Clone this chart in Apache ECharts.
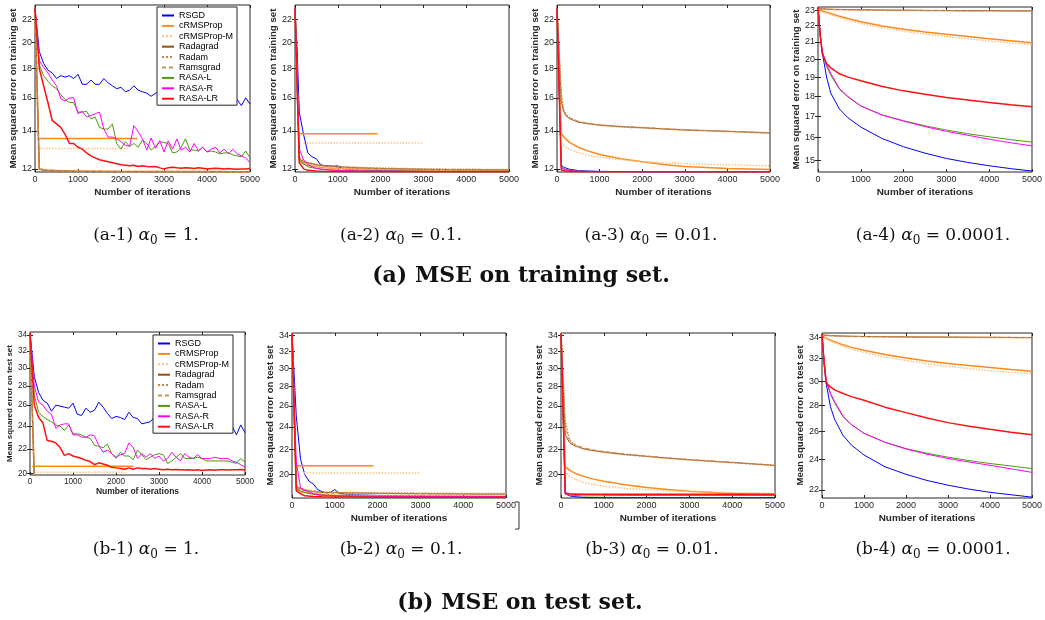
<!DOCTYPE html>
<html><head><meta charset="utf-8">
<script src="https://cdn.jsdelivr.net/npm/echarts@6/dist/echarts.min.js"></script>
<style>html,body{margin:0;padding:0;background:#fff}#c{width:1045px;height:620px}</style>
</head><body><div id="c"></div><script>
const NAMES = ['RSGD','cRMSProp','cRMSProp-M','Radagrad','Radam','Ramsgrad','RASA-L','RASA-R','RASA-LR'];
const X_TICKS = [0,1000,2000,3000,4000,5000];
const TICKS_TRAIN = [12,14,16,18,20,22];
const TICKS_TRAIN4 = [15,16,17,18,19,20,21,22,23];
const TICKS_TEST = [20,22,24,26,28,30,32,34];
const TICKS_TEST4 = [22,24,26,28,30,32,34];
const YNAME_TRAIN = 'Mean squared error on training set';
const YNAME_TEST = 'Mean squared error on test set';
const XNAME = 'Number of iterations';

const X100 = [0,100,200,300,400,500,600,700,800,900,1000,1100,1200,1300,1400,1500,1600,1700,1800,1900,2000,2100,2200,2300,2400,2500,2600,2700,2800,2900,3000,3100,3200,3300,3400,3500,3600,3700,3800,3900,4000,4100,4200,4300,4400,4500,4600,4700,4800,4900,5000];

// (a-1)
const a1_RSGD = [23.0,19.3,18.4,17.9,17.7,17.3,17.5,17.4,17.5,17.3,17.6,16.9,16.9,17.2,16.9,16.9,17.3,17.0,16.8,16.6,16.7,16.4,16.5,16.8,16.5,16.4,16.3,16.1,16.3,16.4,16.4,16.2,16.3,16.0,16.2,16.1,16.3,16.0,16.1,15.9,16.0,16.2,15.9,16.0,15.8,16.1,15.8,15.9,15.5,16.0,15.6];
const a1_RASA_L = [23.0,18.3,17.5,17.1,16.8,16.6,16.2,15.9,15.7,15.7,15.1,15.1,15.15,14.7,14.8,14.2,14.1,14.1,14.4,13.3,13.0,13.4,13.15,13.3,13.1,13.5,13.3,12.95,13.15,13.4,13.35,13.3,12.8,12.85,13.1,13.55,12.95,12.95,12.9,13.1,12.85,12.9,12.85,12.75,12.8,12.8,12.7,12.65,12.6,12.9,12.55];
const a1_RASA_R = [23.0,18.6,18.1,17.7,17.2,16.8,15.95,15.8,16.0,16.0,15.0,15.15,14.8,14.9,15.0,15.1,14.1,13.65,13.65,13.55,13.4,13.2,13.15,14.3,13.95,13.55,12.95,13.6,13.05,13.45,12.85,13.45,13.0,13.55,12.95,13.1,12.85,13.3,12.9,13.1,12.85,13.0,13.1,12.8,13.0,12.75,13.0,12.75,12.65,12.55,12.3];
const a1_RASA_LR = [23.0,18.0,16.8,15.7,14.6,14.4,14.2,13.8,13.3,13.3,13.1,13.0,12.8,12.65,12.55,12.45,12.4,12.35,12.3,12.25,12.2,12.18,12.15,12.18,12.12,12.15,12.12,12.1,12.12,12.05,12.0,12.06,12.08,12.05,12.03,12.06,12.04,12.02,12.05,12.03,12.0,12.02,12.03,12.02,12.0,12.02,12.0,11.98,12.0,12.0,12.02];
const A1_X = [0,100,200,500,1000,2000,3000,4000,5000];
const a1_cRMSProp = [23.0,12.0,11.95,11.92,11.9,11.88,11.87,11.87,11.86];
const a1_cRMSPropM = [23.0,12.05,11.97,11.93,11.9,11.88,11.87,11.87,11.86];
const a1_Radagrad = [23.0,11.98,11.93,11.9,11.88,11.87,11.86,11.86,11.86];
const a1_Radam = [23.0,12.02,11.95,11.91,11.89,11.87,11.87,11.86,11.86];
const a1_Ramsgrad = [23.0,12.0,11.94,11.9,11.88,11.87,11.86,11.86,11.86];
const a1_flat1X = [50,2380], a1_flat1Y = [13.57,13.57];
const a1_flat2X = [50,2170], a1_flat2Y = [13.03,13.03];

// (a-2)
const A2_XB = [0,50,100,200,300,400,500,600,700,800,900,1000,1100,1200,1500,2000,3000,4000,5000];
const a2_RSGD = [23.0,19.5,15.1,13.8,12.8,12.6,12.5,12.2,12.15,12.15,12.13,12.15,12.02,12.0,11.97,11.93,11.9,11.88,11.87];
const A2_X = [0,100,200,300,500,700,1000,1500,2000,3000,4000,5000];
const a2_cRMSProp = [23,12.4,12.25,12.18,12.1,12.06,12.02,11.98,11.96,11.93,11.92,11.91];
const a2_cRMSPropM = [23,12.45,12.3,12.22,12.13,12.08,12.04,12.0,11.98,11.95,11.94,11.93];
const a2_Radagrad = [23,12.5,12.35,12.3,12.2,12.15,12.1,12.05,12.02,11.98,11.96,11.95];
const a2_Radam = [23,12.55,12.4,12.33,12.22,12.17,12.12,12.07,12.04,12.0,11.98,11.97];
const a2_Ramsgrad = [23,12.45,12.32,12.27,12.18,12.13,12.08,12.04,12.01,11.98,11.96,11.95];
const a2_RASA_L = [23,12.45,12.25,12.1,12.02,11.97,11.93,11.9,11.89,11.88,11.87,11.87];
const a2_RASA_R = [23,13.0,12.45,12.2,12.02,11.96,11.92,11.9,11.89,11.88,11.87,11.87];
const a2_RASA_LR = [23,12.3,12.0,11.93,11.9,11.88,11.87,11.87,11.86,11.86,11.86,11.86];
const a2_flat1X = [120,1930], a2_flat1Y = [13.83,13.83];
const a2_flat2X = [200,2990], a2_flat2Y = [13.32,13.32];

// (a-3)
const A3_X = [0,100,150,200,300,500,700,1000,1500,2000,2500,3000,4000,5000];
const a3_RSGD = [23,12.2,12.1,12.05,11.98,11.92,11.9,11.88,11.87,11.86,11.86,11.86,11.86,11.86];
const a3_cRMSProp = [23,13.85,13.7,13.55,13.35,13.1,12.92,12.72,12.5,12.35,12.22,12.12,12.02,11.97];
const a3_cRMSPropM = [23,13.3,13.2,13.1,12.98,12.82,12.7,12.58,12.45,12.36,12.3,12.25,12.2,12.15];
const a3_Radagrad = [23,15.8,15.2,14.9,14.7,14.5,14.42,14.33,14.24,14.18,14.11,14.05,13.97,13.88];
const a3_Radam = [23,16.3,15.3,15.0,14.75,14.52,14.43,14.32,14.22,14.16,14.1,14.04,13.96,13.87];
const a3_Ramsgrad = [23,16.0,15.25,14.95,14.75,14.55,14.45,14.35,14.26,14.2,14.13,14.07,13.98,13.9];
const a3_RASA_L = [23,12.1,12.03,11.98,11.93,11.9,11.88,11.87,11.86,11.86,11.86,11.86,11.86,11.86];
const a3_RASA_R = [23,12.05,12.0,11.96,11.92,11.89,11.87,11.86,11.86,11.86,11.86,11.86,11.86,11.86];
const a3_RASA_LR = [23,11.95,11.92,11.9,11.88,11.87,11.86,11.86,11.86,11.86,11.86,11.86,11.86,11.86];

// (a-4)
const A4_X = [0,50,100,200,300,500,700,1000,1500,2000,2500,3000,3500,4000,4500,5000];
const a4_RSGD = [23.2,21.5,20.4,19.0,18.15,17.35,16.92,16.48,15.95,15.58,15.3,15.07,14.9,14.76,14.64,14.54];
const a4_cRMSProp = [23.1,23.0,22.95,22.85,22.78,22.6,22.45,22.25,21.98,21.77,21.6,21.46,21.33,21.2,21.08,20.96];
const a4_cRMSPropM = [23.05,22.95,22.88,22.78,22.7,22.5,22.35,22.13,21.87,21.65,21.47,21.33,21.19,21.06,20.94,20.83];
const a4_Radagrad = [23.15,23.1,23.08,23.06,23.05,23.04,23.03,23.02,23.0,22.99,22.98,22.97,22.96,22.96,22.95,22.95];
const a4_Radam = [23.12,23.08,23.06,23.04,23.03,23.02,23.01,23.0,22.98,22.97,22.96,22.95,22.94,22.94,22.93,22.93];
const a4_Ramsgrad = [23.14,23.09,23.07,23.05,23.04,23.03,23.02,23.01,22.99,22.98,22.97,22.96,22.95,22.95,22.94,22.94];
const a4_RASA_L = [23.2,21.5,20.4,19.6,19.1,18.35,17.95,17.5,17.06,16.78,16.54,16.34,16.17,16.03,15.9,15.79];
const a4_RASA_R = [23.2,21.5,20.45,19.7,19.2,18.4,17.98,17.5,17.05,16.76,16.5,16.28,16.1,15.92,15.76,15.62];
const a4_RASA_LR = [23.2,21.4,20.3,19.75,19.5,19.18,19.0,18.8,18.5,18.27,18.1,17.93,17.8,17.67,17.56,17.46];

// (b-1)
const b1_RSGD = [34.3,29.0,27.3,26.5,26.2,25.4,26.0,25.9,25.8,25.7,26.2,25.1,25.0,25.7,25.3,25.5,26.3,25.8,25.2,24.7,24.9,24.8,24.6,25.3,24.8,24.7,24.2,24.3,24.4,24.9,25.0,24.6,24.3,24.8,24.5,24.2,24.6,24.4,24.1,24.5,24.3,24.0,24.4,23.6,24.0,23.8,23.4,24.0,23.2,24.1,23.4];
const b1_RASA_L = [34.3,27.0,25.3,24.9,24.6,24.4,24.1,24.0,23.6,24.1,23.3,23.3,23.2,23.0,22.9,22.3,22.2,22.1,22.4,21.6,21.2,21.7,21.4,21.4,21.1,21.9,21.5,21.1,21.3,21.5,21.6,21.5,20.8,21.0,21.3,21.6,21.2,21.2,21.2,21.3,21.2,21.0,21.0,21.0,21.0,21.0,21.0,20.9,20.8,21.2,20.9];
const b1_RASA_R = [34.3,28.0,26.3,26.0,25.4,25.1,23.8,24.1,24.2,24.2,23.2,23.2,23.0,23.0,23.2,23.1,22.3,21.7,21.9,21.6,21.3,21.5,21.6,22.5,22.1,21.2,21.6,21.3,21.6,21.2,21.4,21.0,21.2,21.7,21.3,21.0,21.6,21.3,21.2,21.5,21.2,21.2,21.2,21.3,21.2,21.2,21.2,21.0,20.9,20.7,20.5];
const b1_RASA_LR = [34.3,26.0,24.8,24.3,22.7,22.65,22.5,22.1,21.45,21.6,21.4,21.3,21.2,21.05,20.95,20.7,20.85,20.75,20.65,20.5,20.45,20.4,20.35,20.45,20.35,20.45,20.4,20.4,20.35,20.4,20.35,20.3,20.35,20.3,20.32,20.3,20.28,20.3,20.27,20.3,20.25,20.28,20.3,20.27,20.3,20.3,20.28,20.3,20.3,20.32,20.3];
const B1_X = [0,100,200,500,1000,2000,3000,4000,5000];
const b1_cRMSProp = [34.3,19.6,19.5,19.45,19.4,19.4,19.4,19.4,19.4];
const b1_cRMSPropM = [34.3,19.65,19.52,19.46,19.42,19.4,19.4,19.4,19.4];
const b1_Radagrad = [34.3,19.7,19.55,19.48,19.45,19.42,19.41,19.4,19.4];
const b1_Radam = [34.3,19.75,19.58,19.5,19.46,19.43,19.42,19.41,19.41];
const b1_Ramsgrad = [34.3,19.68,19.53,19.47,19.44,19.42,19.41,19.4,19.4];
const b1_flat1X = [50,2400], b1_flat1Y = [20.57,20.57];
const b1_flat2X = [100,2200], b1_flat2Y = [20.12,20.12];

// (b-2)
const B2_XB = [0,100,200,300,400,500,600,700,800,900,1000,1100,1200,1500,2000,3000,4000,5000];
const b2_RSGD = [34.3,25.0,21.2,20.0,19.5,19.3,18.9,18.75,18.65,18.7,18.9,18.62,18.58,18.52,18.48,18.44,18.42,18.4];
const B2_X = [0,100,200,300,500,700,1000,1500,2000,3000,4000,5000];
const b2_cRMSProp = [34.3,18.9,18.75,18.68,18.6,18.55,18.5,18.47,18.45,18.43,18.42,18.41];
const b2_cRMSPropM = [34.3,19.0,18.8,18.72,18.63,18.58,18.53,18.5,18.48,18.46,18.45,18.44];
const b2_Radagrad = [34.3,19.1,18.95,18.85,18.75,18.7,18.67,18.65,18.63,18.6,18.58,18.57];
const b2_Radam = [34.3,19.2,19.0,18.9,18.8,18.74,18.7,18.68,18.66,18.64,18.62,18.61];
const b2_Ramsgrad = [34.3,19.05,18.9,18.82,18.72,18.68,18.65,18.63,18.6,18.58,18.56,18.55];
const b2_RASA_L = [34.3,19.0,18.8,18.7,18.55,18.48,18.45,18.43,18.42,18.41,18.4,18.4];
const b2_RASA_R = [34.3,21.0,19.0,18.85,18.6,18.5,18.46,18.43,18.42,18.41,18.4,18.4];
const b2_RASA_LR = [34.3,18.8,18.6,18.45,18.4,18.38,18.37,18.37,18.36,18.36,18.36,18.36];
const b2_flat1X = [117,1905], b2_flat1Y = [20.69,20.69];
const b2_flat2X = [272,2994], b2_flat2Y = [20.13,20.13];

// (b-3)
const B3_X = [0,100,200,300,500,700,1000,1500,2000,2500,3000,4000,5000];
const b3_RSGD = [34.3,18.6,18.45,18.4,18.35,18.33,18.32,18.32,18.32,18.32,18.32,18.32,18.32];
const b3_cRMSProp = [34.3,20.6,20.35,20.15,19.9,19.7,19.5,19.25,19.05,18.9,18.78,18.62,18.52];
const b3_cRMSPropM = [34.3,20.2,19.9,19.7,19.45,19.3,19.15,18.98,18.88,18.8,18.75,18.68,18.65];
const b3_Radagrad = [34.3,23.3,22.6,22.35,22.1,21.95,21.8,21.6,21.45,21.3,21.17,20.95,20.72];
const b3_Radam = [34.3,24.5,22.8,22.4,22.1,21.95,21.78,21.58,21.43,21.28,21.15,20.93,20.7];
const b3_Ramsgrad = [34.3,23.8,22.9,22.5,22.2,22.02,21.85,21.65,21.48,21.33,21.2,20.97,20.75];
const b3_RASA_L = [34.3,18.6,18.5,18.48,18.45,18.45,18.46,18.47,18.48,18.48,18.48,18.48,18.48];
const b3_RASA_R = [34.3,18.7,18.6,18.58,18.56,18.55,18.55,18.55,18.55,18.54,18.54,18.53,18.53];
const b3_RASA_LR = [34.3,18.6,18.58,18.57,18.57,18.57,18.57,18.56,18.56,18.56,18.56,18.56,18.56];

// (b-4)
const B4_X = [0,50,100,200,300,500,700,1000,1500,2000,2500,3000,3500,4000,4500,5000];
const b4_RSGD = [34.3,31.5,29.8,27.9,26.9,25.7,25.0,24.3,23.5,23.0,22.6,22.3,22.05,21.85,21.7,21.55];
const b4_cRMSProp = [34.2,34.0,33.9,33.7,33.55,33.26,33.02,32.75,32.35,32.03,31.77,31.54,31.35,31.18,31.0,30.84];
const b4_cRMSPropM = [34.2,33.95,33.85,33.6,33.43,33.12,32.85,32.55,32.12,31.8,31.52,31.28,31.08,30.9,30.76,30.64];
const b4_Radagrad = [34.3,34.2,34.18,34.15,34.13,34.1,34.08,34.06,34.04,34.02,34.01,34.0,33.99,33.98,33.97,33.96];
const b4_Radam = [34.28,34.18,34.16,34.13,34.11,34.08,34.06,34.04,34.02,34.0,33.99,33.98,33.97,33.96,33.95,33.94];
const b4_Ramsgrad = [34.3,34.19,34.17,34.14,34.12,34.09,34.07,34.05,34.03,34.01,34.0,33.99,33.98,33.97,33.96,33.95];
const b4_RASA_L = [34.3,31.8,30.0,28.9,28.2,27.1,26.5,25.85,25.2,24.75,24.42,24.15,23.92,23.72,23.55,23.38];
const b4_RASA_R = [34.3,31.8,30.1,29.0,28.3,27.15,26.5,25.85,25.2,24.72,24.36,24.06,23.82,23.6,23.36,23.13];
const b4_RASA_LR = [34.3,31.6,29.8,29.5,29.25,28.95,28.7,28.4,27.85,27.42,27.0,26.65,26.38,26.15,25.93,25.74];

const STYLE = {
  'RSGD':       {color:'#0000ff', type:'solid',  width:1},
  'cRMSProp':   {color:'#ff8a1c', type:'solid',  width:1.5},
  'cRMSProp-M': {color:'#ffc080', type:'dotted', width:1.5},
  'Radagrad':   {color:'#9a4e08', type:'solid',  width:1},
  'Radam':      {color:'#c0834a', type:'dotted', width:1.5},
  'Ramsgrad':   {color:'#c8915a', type:[4,3],    width:1},
  'RASA-L':     {color:'#4c9a06', type:'solid',  width:1},
  'RASA-R':     {color:'#ff00ff', type:'solid',  width:1},
  'RASA-LR':    {color:'#ff1010', type:'solid',  width:1.5}
};

const PLOTS = [
 {box:[35,5,215,167], yr:[11.85,23.3], ticks:TICKS_TRAIN, yname:YNAME_TRAIN, fs:9, nfs:9.7, xfs:9.9, xng:15, yng:17, lines:[
   ['RSGD',X100,a1_RSGD],['cRMSProp',A1_X,a1_cRMSProp],['cRMSProp',a1_flat1X,a1_flat1Y],
   ['cRMSProp-M',A1_X,a1_cRMSPropM],['cRMSProp-M',a1_flat2X,a1_flat2Y],
   ['Radagrad',A1_X,a1_Radagrad],['Radam',A1_X,a1_Radam],['Ramsgrad',A1_X,a1_Ramsgrad],
   ['RASA-L',X100,a1_RASA_L],['RASA-R',X100,a1_RASA_R],['RASA-LR',X100,a1_RASA_LR]]},
 {box:[295,5,214,167], yr:[11.85,23.3], ticks:TICKS_TRAIN, yname:YNAME_TRAIN, fs:9, nfs:9.7, xfs:9.9, xng:15, yng:16.5, lines:[
   ['RSGD',A2_XB,a2_RSGD],['cRMSProp',A2_X,a2_cRMSProp],['cRMSProp',a2_flat1X,a2_flat1Y],
   ['cRMSProp-M',A2_X,a2_cRMSPropM],['cRMSProp-M',a2_flat2X,a2_flat2Y],
   ['Radagrad',A2_X,a2_Radagrad],['Radam',A2_X,a2_Radam],['Ramsgrad',A2_X,a2_Ramsgrad],
   ['RASA-L',A2_X,a2_RASA_L],['RASA-R',A2_X,a2_RASA_R],['RASA-LR',A2_X,a2_RASA_LR]]},
 {box:[557,5,213,167], yr:[11.85,23.3], ticks:TICKS_TRAIN, yname:YNAME_TRAIN, fs:9, nfs:9.7, xfs:9.9, xng:15, yng:17, lines:[
   ['RSGD',A3_X,a3_RSGD],['cRMSProp',A3_X,a3_cRMSProp],['cRMSProp-M',A3_X,a3_cRMSPropM],
   ['Radagrad',A3_X,a3_Radagrad],['Radam',A3_X,a3_Radam],['Ramsgrad',A3_X,a3_Ramsgrad],
   ['RASA-L',A3_X,a3_RASA_L],['RASA-R',A3_X,a3_RASA_R],['RASA-LR',A3_X,a3_RASA_LR]]},
 {box:[818,7,215,165], yr:[14.5,23.2], ticks:TICKS_TRAIN4, yname:YNAME_TRAIN, fs:9, nfs:9.7, xfs:9.9, xng:15, yng:17, lines:[
   ['RSGD',A4_X,a4_RSGD],['cRMSProp',A4_X,a4_cRMSProp],['cRMSProp-M',A4_X,a4_cRMSPropM],
   ['Radagrad',A4_X,a4_Radagrad],['Radam',A4_X,a4_Radam],['Ramsgrad',A4_X,a4_Ramsgrad],
   ['RASA-L',A4_X,a4_RASA_L],['RASA-R',A4_X,a4_RASA_R],['RASA-LR',A4_X,a4_RASA_LR]]},
 {box:[30,332,215,143], yr:[19.9,34.4], ticks:TICKS_TEST, yname:YNAME_TEST, fs:8.2, nfs:8, xfs:8.5, xng:11, yng:15, lines:[
   ['RSGD',X100,b1_RSGD],['cRMSProp',B1_X,b1_cRMSProp],['cRMSProp',b1_flat1X,b1_flat1Y],
   ['cRMSProp-M',B1_X,b1_cRMSPropM],['cRMSProp-M',b1_flat2X,b1_flat2Y],
   ['Radagrad',B1_X,b1_Radagrad],['Radam',B1_X,b1_Radam],['Ramsgrad',B1_X,b1_Ramsgrad],
   ['RASA-L',X100,b1_RASA_L],['RASA-R',X100,b1_RASA_R],['RASA-LR',X100,b1_RASA_LR]]},
 {box:[292,333,214,165], yr:[18.3,34.3], ticks:TICKS_TEST, yname:YNAME_TEST, fs:9, nfs:9.6, xfs:9.9, xng:15, yng:17, lines:[
   ['RSGD',B2_XB,b2_RSGD],['cRMSProp',B2_X,b2_cRMSProp],['cRMSProp',b2_flat1X,b2_flat1Y],
   ['cRMSProp-M',B2_X,b2_cRMSPropM],['cRMSProp-M',b2_flat2X,b2_flat2Y],
   ['Radagrad',B2_X,b2_Radagrad],['Radam',B2_X,b2_Radam],['Ramsgrad',B2_X,b2_Ramsgrad],
   ['RASA-L',B2_X,b2_RASA_L],['RASA-R',B2_X,b2_RASA_R],['RASA-LR',B2_X,b2_RASA_LR]]},
 {box:[561,333,214,165], yr:[18.3,34.3], ticks:TICKS_TEST, yname:YNAME_TEST, fs:9, nfs:9.6, xfs:9.9, xng:15, yng:17, lines:[
   ['RSGD',B3_X,b3_RSGD],['cRMSProp',B3_X,b3_cRMSProp],['cRMSProp-M',B3_X,b3_cRMSPropM],
   ['Radagrad',B3_X,b3_Radagrad],['Radam',B3_X,b3_Radam],['Ramsgrad',B3_X,b3_Ramsgrad],
   ['RASA-L',B3_X,b3_RASA_L],['RASA-R',B3_X,b3_RASA_R],['RASA-LR',B3_X,b3_RASA_LR]]},
 {box:[822,333,214,165], yr:[21.5,34.4], ticks:TICKS_TEST4, yname:YNAME_TEST, fs:9, nfs:9.6, xfs:9.9, xng:15, yng:17, lines:[
   ['RSGD',B4_X,b4_RSGD],['cRMSProp',B4_X,b4_cRMSProp],['cRMSProp-M',B4_X,b4_cRMSPropM],
   ['Radagrad',B4_X,b4_Radagrad],['Radam',B4_X,b4_Radam],['Ramsgrad',B4_X,b4_Ramsgrad],
   ['RASA-L',B4_X,b4_RASA_L],['RASA-R',B4_X,b4_RASA_R],['RASA-LR',B4_X,b4_RASA_LR]]}
];

const FONT = 'Liberation Sans';
const SERIF = 'DejaVu Serif';
const AX = '#262626';
const pairs = (xs, ys) => xs.map((x, i) => [x, ys[i]]);

const grid = [], xAxis = [], yAxis = [], series = [];
PLOTS.forEach((p, i) => {
  grid.push({left:p.box[0], top:p.box[1], width:p.box[2], height:p.box[3], show:true, borderColor:AX, borderWidth:1, backgroundColor:'#fff', containLabel:false});
  const tick = {show:true, inside:true, length:3, lineStyle:{color:AX, width:1}};
  xAxis.push({gridIndex:i, type:'value', min:0, max:5000, interval:1000, position:'bottom',
    name:XNAME, nameLocation:'middle', nameGap:p.xng,
    nameTextStyle:{fontWeight:'bold', fontSize:p.xfs, color:AX, fontFamily:FONT},
    axisLine:{show:false}, axisTick:tick,
    axisLabel:{fontSize:p.fs, color:AX, margin:3, fontFamily:FONT, customValues:X_TICKS, formatter:v => String(v)},
    splitLine:{show:false}});
  xAxis.push({gridIndex:i, type:'value', min:0, max:5000, interval:1000, position:'top',
    axisLine:{show:false}, axisTick:tick, axisLabel:{show:false}, splitLine:{show:false}});
  yAxis.push({gridIndex:i, type:'log', logBase:10, min:p.yr[0], max:p.yr[1], position:'left',
    name:p.yname, nameLocation:'middle', nameGap:p.yng,
    nameTextStyle:{fontWeight:'bold', fontSize:p.nfs, color:AX, fontFamily:FONT},
    axisLine:{show:false}, axisTick:Object.assign({customValues:p.ticks}, tick),
    axisLabel:{customValues:p.ticks, fontSize:p.fs, color:AX, margin:3, fontFamily:FONT, formatter:v => String(v)},
    splitLine:{show:false}, minorTick:{show:false}});
  yAxis.push({gridIndex:i, type:'log', logBase:10, min:p.yr[0], max:p.yr[1], position:'right',
    axisLine:{show:false}, axisTick:Object.assign({customValues:p.ticks}, tick),
    axisLabel:{show:false}, splitLine:{show:false}});
  p.lines.forEach(([name, xs, ys]) => {
    const st = STYLE[name];
    series.push({type:'line', name, xAxisIndex:2*i, yAxisIndex:2*i, data:pairs(xs, ys),
      symbol:'none', showSymbol:false, clip:true, animation:false, silent:true,
      color:st.color, itemStyle:{color:st.color},
      lineStyle:{color:st.color, width:st.width, type:st.type}, emphasis:{disabled:true}});
  });
});

const legendBase = {data:NAMES, orient:'vertical', itemWidth:12, itemHeight:8, itemGap:1.4,
  padding:[4,4,2,4], borderColor:AX, borderWidth:1, backgroundColor:'#fff', selectedMode:false,
  itemStyle:{opacity:0, borderWidth:0},
  textStyle:{fontSize:9, color:'#000', fontFamily:FONT, lineHeight:9}, z:20};

const CAPTIONS = [
  ['(a-1) {i|α}{s|0} = 1.', 146, 236], ['(a-2) {i|α}{s|0} = 0.1.', 401, 236],
  ['(a-3) {i|α}{s|0} = 0.01.', 651, 236], ['(a-4) {i|α}{s|0} = 0.0001.', 933, 236],
  ['(b-1) {i|α}{s|0} = 1.', 146, 550], ['(b-2) {i|α}{s|0} = 0.1.', 401, 550],
  ['(b-3) {i|α}{s|0} = 0.01.', 652, 550], ['(b-4) {i|α}{s|0} = 0.0001.', 933, 550]
];
const HEADS = [['(a) MSE on training set.', 521, 276], ['(b) MSE on test set.', 520, 603]];

const graphic = [];
CAPTIONS.forEach(c => graphic.push({type:'text', x:c[1], y:c[2], z:30, style:{
  text:c[0], fontSize:17, fontFamily:SERIF, fill:'#111', align:'center', verticalAlign:'middle',
  rich:{i:{fontStyle:'italic', fontSize:17, fontFamily:SERIF}, s:{fontSize:12, fontFamily:SERIF, padding:[9,0,0,0]}}}}));
HEADS.forEach(h => graphic.push({type:'text', x:h[1], y:h[2], z:30, style:{
  text:h[0], fontSize:22, fontWeight:'bold', fontFamily:SERIF, fill:'#111', align:'center', verticalAlign:'middle'}}));
graphic.push({type:'polyline', z:30, shape:{points:[[515,502],[519,502],[519,529],[515,529]]}, style:{stroke:'#333', lineWidth:1, fill:null}});

const chart = echarts.init(document.getElementById('c'), null, {renderer:'canvas'});
chart.setOption({
  animation:false, backgroundColor:'#fff',
  grid, xAxis, yAxis, series,
  legend:[Object.assign({left:157, top:7}, legendBase), Object.assign({left:153, top:335, itemGap:1.1}, legendBase)],
  graphic
});
</script></body></html>
